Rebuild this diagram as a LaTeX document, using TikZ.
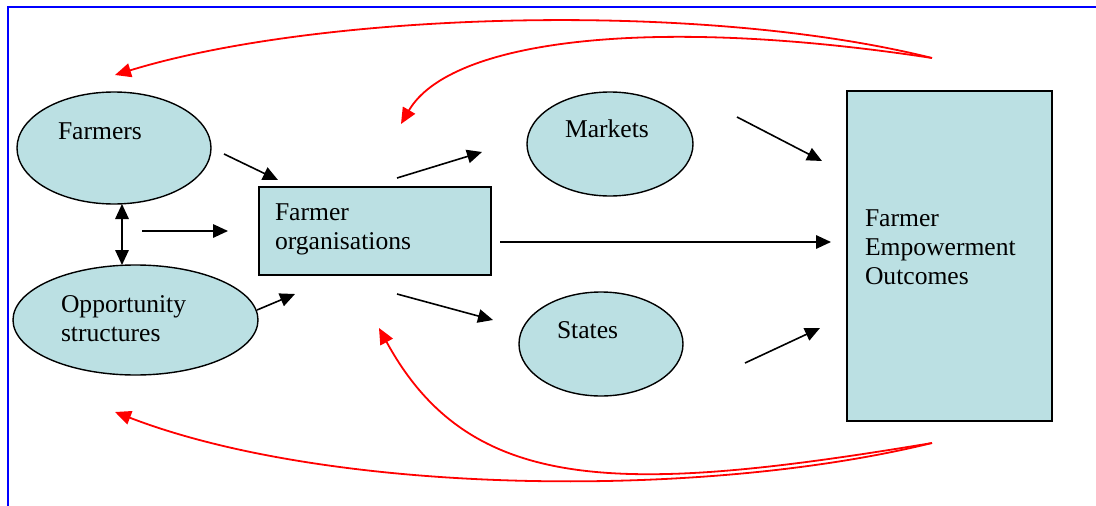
\documentclass[tikz,border=0pt]{standalone}
\usepackage{fontspec}
\setmainfont{Liberation Serif}
\usetikzlibrary{arrows.meta,shapes.geometric}
\definecolor{boxfill}{RGB}{187,224,227}
\definecolor{frameblue}{RGB}{0,0,255}
\definecolor{fbred}{RGB}{255,0,0}
\begin{document}
\begin{tikzpicture}[x=1pt,y=-1pt,
  ellip/.style={ellipse,draw=black,line width=1.4pt,fill=boxfill,inner sep=0pt},
  boxnode/.style={rectangle,draw=black,line width=1.6pt,fill=boxfill,inner sep=0pt},
  lbl/.style={inner sep=0pt,outer sep=0pt,align=left,font=\fontsize{25.6}{29}\selectfont},
  flow/.style={line width=1.6pt,-{Triangle[length=15pt,width=13.5pt]}},
  both/.style={line width=1.6pt,{Triangle[length=15pt,width=13.5pt]}-{Triangle[length=15pt,width=13.5pt]}},
  feedback/.style={draw=fbred,line width=1.8pt,-{Triangle[length=16pt,width=14pt]},fbred},
  frame/.style={draw=frameblue,line width=2pt}]
\useasboundingbox (0,0) rectangle (1096,506);
% blue frame
\coordinate (fA) at (8,506);
\coordinate (fB) at (8,6.5);
\coordinate (fC) at (1096,6.5);
\draw[frame] (fA) -- (fB) -- (fC);

% shapes
\node[ellip,minimum width=194pt,minimum height=112pt] (farmers) at (114,148) {};
\node[ellip,minimum width=245pt,minimum height=110pt] (opp) at (135.5,320) {};
\node[boxnode,minimum width=232pt,minimum height=88pt] (org) at (375,231) {};
\node[ellip,minimum width=166pt,minimum height=104pt] (markets) at (610,144) {};
\node[ellip,minimum width=164pt,minimum height=104pt] (states) at (601,344) {};
\node[boxnode,minimum width=205pt,minimum height=330pt] (emp) at (949.5,256) {};

% texts
\node[lbl,anchor=base west] (farmersT) at (58,139) {Farmers};
\node[lbl,anchor=north west] (oppT) at (61,296) {Opportunity\\structures};
\node[lbl,anchor=north west] (orgT) at (275,204) {Farmer\\organisations};
\node[lbl,anchor=base west] (marketsT) at (565,137) {Markets};
\node[lbl,anchor=base west] (statesT) at (557,338) {States};
\node[lbl,anchor=north west] (empT) at (865,210) {Farmer\\Empowerment\\Outcomes};

% black connectors
\coordinate (a1s) at (224,154);  \coordinate (a1e) at (278,180);
\coordinate (a2s) at (122,204);  \coordinate (a2e) at (122,265);
\coordinate (a3s) at (142,231);  \coordinate (a3e) at (228,231);
\coordinate (a4s) at (257,310);  \coordinate (a4e) at (295,294);
\coordinate (a5s) at (397,178);  \coordinate (a5e) at (482,152);
\coordinate (a6s) at (397,294);  \coordinate (a6e) at (493,320);
\coordinate (a7s) at (737,117);  \coordinate (a7e) at (822,161);
\coordinate (a8s) at (500,242);  \coordinate (a8e) at (831,242);
\coordinate (a9s) at (745,363);  \coordinate (a9e) at (820,328);
\draw[flow] (a1s) -- (a1e);
\draw[both] (a2s) -- (a2e);
\draw[flow] (a3s) -- (a3e);
\draw[flow] (a4s) -- (a4e);
\draw[flow] (a5s) -- (a5e);
\draw[flow] (a6s) -- (a6e);
\draw[flow] (a7s) -- (a7e);
\draw[flow] (a8s) -- (a8e);
\draw[flow] (a9s) -- (a9e);

% red feedback arrows
\coordinate (rTop) at (932,58);
\coordinate (rBot) at (932,443);
\coordinate (rT1) at (115,75);
\coordinate (rT2) at (401,124);
\coordinate (rB1) at (115,412);
\coordinate (rB2) at (379,328);
\draw[feedback] (rTop) .. controls (700,0) and (320,12) .. (rT1);
\draw[feedback] (rTop) .. controls (650,15) and (450,40) .. (rT2);
\draw[feedback] (rBot) .. controls (700,500) and (330,495) .. (rB1);
\draw[feedback] (rBot) .. controls (620,495) and (470,495) .. (rB2);
\end{tikzpicture}
\end{document}
